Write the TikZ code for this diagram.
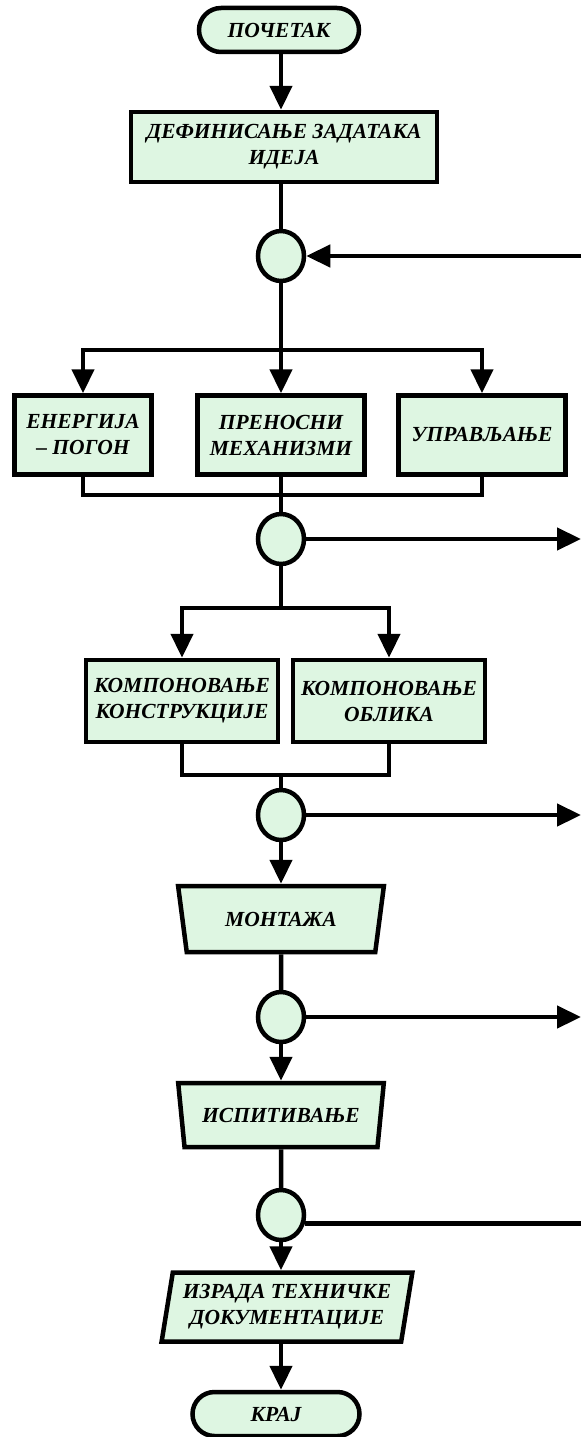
\documentclass[tikz,border=0pt]{standalone}
\usepackage{fontspec}
\setmainfont{Liberation Serif}
\usetikzlibrary{arrows.meta,shapes.geometric}
\definecolor{mint}{RGB}{222,246,226}

\begin{document}
\begin{tikzpicture}[x=1pt,y=-1pt,line width=4.5pt,
  every node/.style={draw,fill=mint,align=center,inner sep=2pt,
    font=\bfseries\itshape\fontsize{21.5}{26}\selectfont},
  term/.style={rounded corners=22pt,minimum height=44pt},
  block/.style={rectangle,minimum height=79pt},
  joint/.style={ellipse,minimum width=46pt,minimum height=50pt,inner sep=0pt},
  work/.style={trapezium,shape border rotate=180,trapezium angle=74,
    trapezium stretches=true,minimum width=206pt,minimum height=66pt},
  doc/.style={trapezium,trapezium left angle=78,trapezium right angle=102,
    trapezium stretches=true,minimum width=251pt,minimum height=69pt},
  arr/.style={-{Triangle[width=22pt,length=24pt]}}]
  \useasboundingbox (0,0) rectangle (581,1437);
  \coordinate (rim) at (581,0);

  \node[term,minimum width=160pt] (start) at (279,30) {ПОЧЕТАК};
  \node[block,minimum width=306pt,minimum height=70pt] (def) at (284,147)
    {ДЕФИНИСАЊЕ ЗАДАТАКА\\ИДЕЈА};
  \node[joint] (c1) at (281,256) {};
  \node[block,minimum width=137pt] (ener) at (83,435) {ЕНЕРГИЈА\\– ПОГОН};
  \node[block,minimum width=167pt] (pren) at (281,435) {ПРЕНОСНИ\\МЕХАНИЗМИ};
  \node[block,minimum width=167pt] (uprav) at (482,435) {УПРАВЉАЊЕ};
  \node[joint] (c2) at (281,539) {};
  \node[block,minimum width=192pt,minimum height=82pt] (konst) at (182,701)
    {КОМПОНОВАЊЕ\\КОНСТРУКЦИЈЕ};
  \node[block,minimum width=192pt,minimum height=82pt] (oblik) at (389,701)
    {КОМПОНОВАЊЕ\\ОБЛИКА};
  \node[joint] (c3) at (281,815) {};
  \node[work] (mont) at (281,919) {МОНТАЖА};
  \node[joint] (c4) at (281,1017) {};
  \node[work,minimum height=64pt] (isp) at (281,1115) {ИСПИТИВАЊЕ};
  \node[joint] (c5) at (281,1215) {};
  \node[doc] (docum) at (287,1307) {ИЗРАДА ТЕХНИЧКЕ\\ДОКУМЕНТАЦИЈЕ};
  \node[term,minimum width=167pt] (end) at (276,1414) {КРАЈ};

  \coordinate (b1) at (281,350);
  \coordinate (m1) at (281,495);
  \coordinate (b2) at (281,608);
  \coordinate (m2) at (281,775);

  \draw[arr] (c1 |- start.south) -- (c1 |- def.north);
  \draw (c1 |- def.south) -- (c1);
  \draw[arr] (c1 -| rim) -- (c1);
  \draw (c1) -- (b1);
  \draw[arr] (b1) -| (ener);
  \draw[arr] (b1) -- (pren);
  \draw[arr] (b1) -| (uprav);
  \draw (ener) |- (m1) -| (uprav);
  \draw (pren) -- (c2);
  \draw[arr] (c2.east) -- (c2.east -| rim);
  \draw (c2) -- (b2);
  \draw[arr] (b2) -| (konst);
  \draw[arr] (b2) -| (oblik);
  \draw (konst) |- (m2) -| (oblik);
  \draw (m2) -- (c3);
  \draw[arr] (c3.east) -- (c3.east -| rim);
  \draw[arr] (c3) -- (mont);
  \draw (mont) -- (c4);
  \draw[arr] (c4.east) -- (c4.east -| rim);
  \draw[arr] (c4) -- (isp);
  \draw (isp) -- (c5);
  \draw (c5.-20) -- (c5.-20 -| rim);
  \draw[arr] (c5) -- (c5 |- docum.north);
  \draw[arr] (c5 |- docum.south) -- (c5 |- end.north);
\end{tikzpicture}
\end{document}
